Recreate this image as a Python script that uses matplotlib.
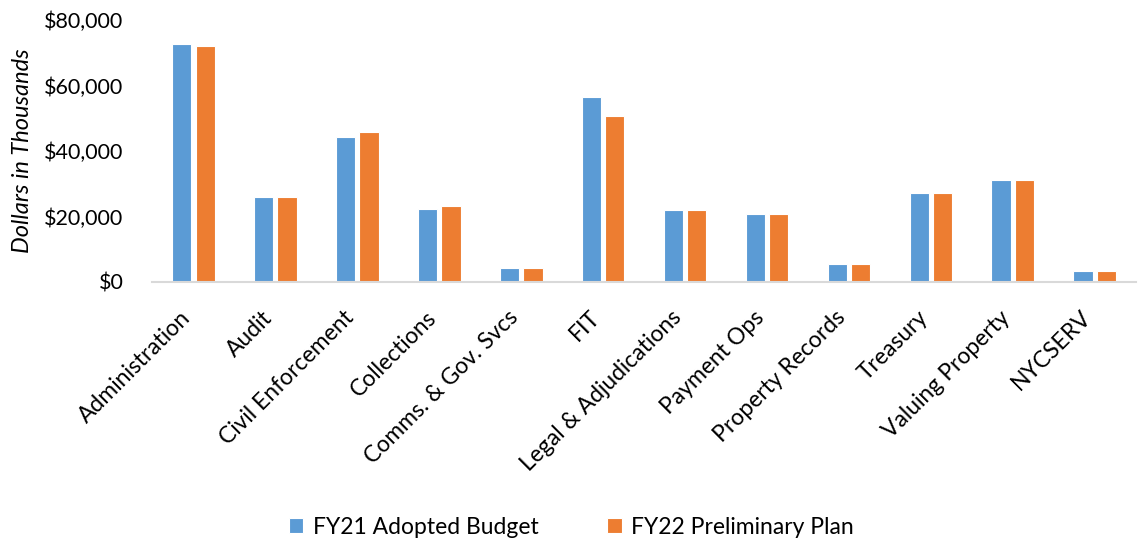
import matplotlib.pyplot as plt
import matplotlib.transforms as mtransforms
import numpy as np
from matplotlib.ticker import FuncFormatter

# Budget by program area, dollars in thousands
categories = ['Administration', 'Audit', 'Civil Enforcement', 'Collections',
              'Comms. & Gov. Svcs', 'FIT', 'Legal & Adjudications', 'Payment Ops',
              'Property Records', 'Treasury', 'Valuing Property', 'NYCSERV']
fy21_adopted = [72590, 25840, 44380, 22340, 4220, 56420,
                21830, 20590, 5460, 27180, 30990, 3300]
fy22_prelim = [71970, 25840, 45820, 23270, 4220, 50550,
               21830, 20590, 5460, 27180, 31200, 3300]
series_names = ['FY21 Adopted Budget', 'FY22 Preliminary Plan']

plt.rcParams['font.family'] = ['Lato', 'DejaVu Sans']

fig = plt.figure(figsize=(11.38, 5.4), dpi=100)
ax = fig.add_axes([0.134, 0.478, 0.864, 0.485])

x = np.arange(len(categories))
w = 0.235
ax.bar(x - 0.143, fy21_adopted, w, color='#5B9BD5', edgecolor='white', linewidth=0.8, label=series_names[0])
ax.bar(x + 0.143, fy22_prelim, w, color='#ED7D31', edgecolor='white', linewidth=0.8, label=series_names[1])

ax.set_xlim(-0.5, len(categories) - 0.5)
ax.set_ylim(0, 80000)
ax.set_yticks(range(0, 80001, 20000))
ax.yaxis.set_major_formatter(FuncFormatter(lambda v, p: f'${v:,.0f}'))
ax.set_xticks(x)
ax.set_xticklabels(categories, rotation=45, ha='right', rotation_mode='anchor')
ax.tick_params(axis='both', length=0, colors='black')
ax.tick_params(axis='x', labelsize=16.5, pad=18)
ax.tick_params(axis='y', labelsize=15.5, pad=21)

# nudge the rotated labels left so their ends sit under the bar pairs
shift = mtransforms.ScaledTranslation(-0.14, 0, fig.dpi_scale_trans)
for lbl in ax.get_xticklabels():
    lbl.set_transform(lbl.get_transform() + shift)

for side in ['top', 'right', 'left']:
    ax.spines[side].set_visible(False)
ax.spines['bottom'].set_color('#D9D9D9')
ax.spines['bottom'].set_linewidth(1.5)

ax.set_ylabel('Dollars in Thousands', fontsize=17, fontstyle='italic', labelpad=8)

fig.legend(loc='center', bbox_to_anchor=(0.502, 0.024), ncol=2, frameon=False,
           fontsize=16.5, handlelength=0.65, handleheight=0.65, columnspacing=3.0, handletextpad=0.4)

plt.savefig('out.png', dpi=100)
